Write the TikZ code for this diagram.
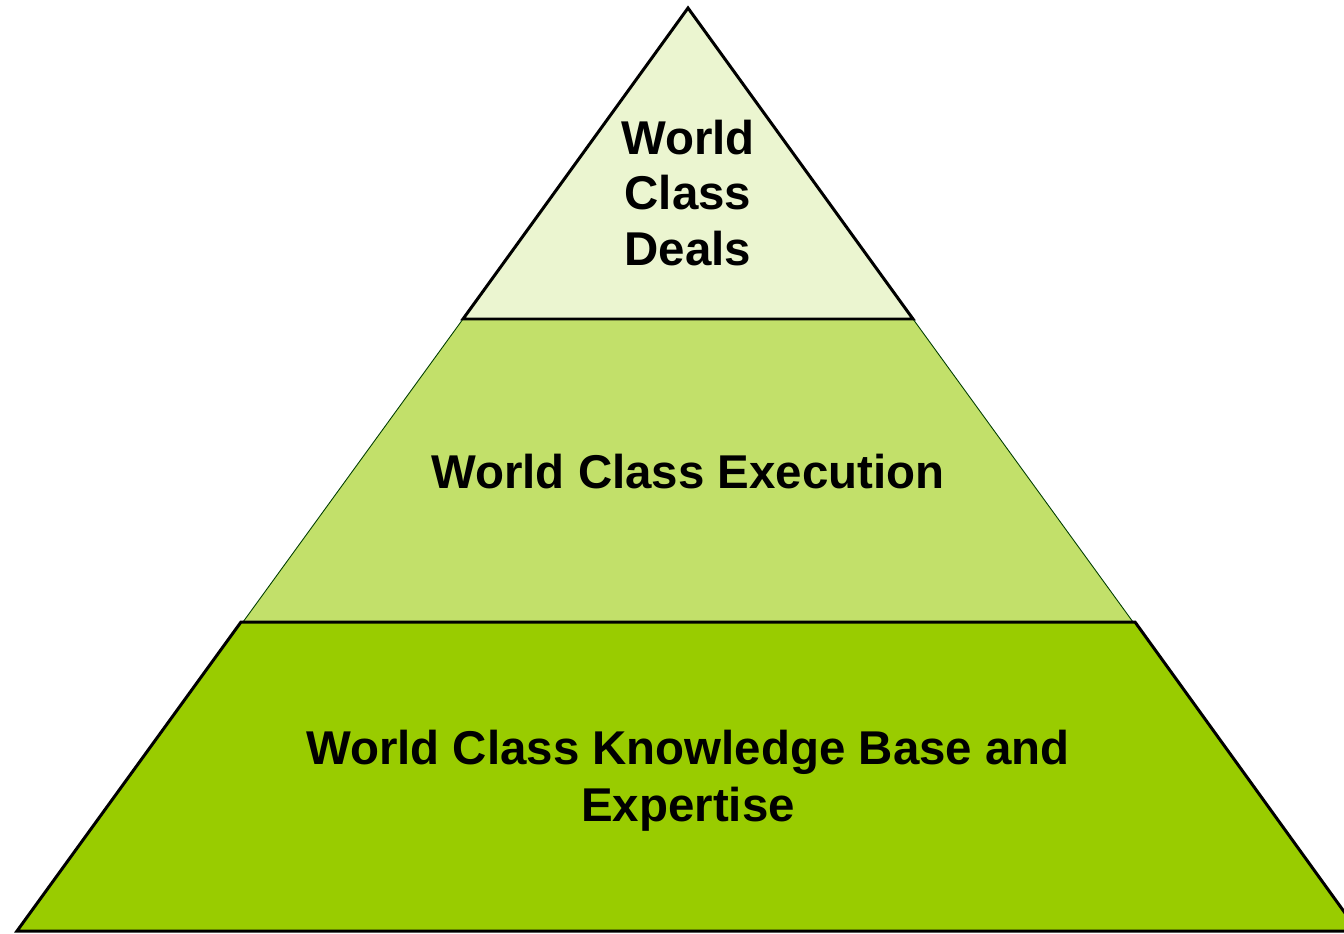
\documentclass[tikz,border=0pt]{standalone}
\usepackage{fontspec}
\setmainfont{Liberation Sans}
\usepackage{tikz}
\usetikzlibrary{positioning}
\definecolor{tierlight}{HTML}{EBF5D0}
\definecolor{tiermid}{HTML}{C2E06A}
\definecolor{tierdark}{HTML}{99CC00}
\tikzset{
  tierline/.style={draw=black,line width=1.7pt,line join=miter},
  tierthin/.style={draw=black!60!green!60!black,line width=0.5pt},
  tiertext/.style={align=center,font=\fontsize{27}{31.5}\selectfont\bfseries}
}
\begin{document}
\begin{tikzpicture}[x=0.02cm,y=-0.02cm]
\useasboundingbox (0,0) rectangle (1344,933);
%\draw[step=50,color=gray] (0,0) grid (1344,933);
\draw[tierthin,fill=tiermid] (463,319) -- (913,319) -- (1133,622) -- (243,622) -- cycle;
\draw[tierline,fill=tierlight] (688,8) -- (913,319) -- (463,319) -- cycle;
\draw[tierline,fill=tierdark] (241,622) -- (1135,622) -- (1358,931) -- (17,931) -- cycle;
\node[tiertext] (deals) at (688,193) {World\\Class\\Deals};
\node[tiertext] (execution) at (688,472) {World Class Execution};
\node[tiertext,font=\fontsize{27}{32.5}\selectfont\bfseries] (knowledge) at (688,781) {World Class Knowledge Base and\\Expertise};
\end{tikzpicture}
\end{document}
